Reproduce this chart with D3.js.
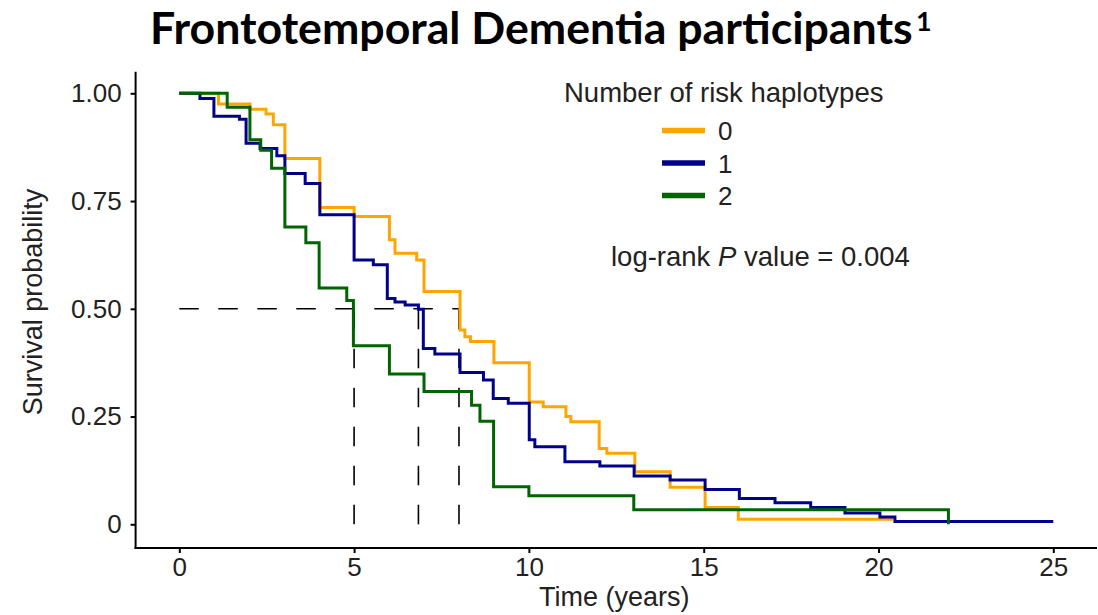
<!DOCTYPE html>
<html>
<head>
<meta charset="utf-8">
<script src="https://cdn.jsdelivr.net/npm/d3@7"></script>
<style>
  body { margin: 0; background: #fff; }
  text { font-family: "Liberation Sans", Arial, sans-serif; }
</style>
</head>
<body>
<div id="chart"></div>
<script>
// groups: number of risk haplotypes
const groups = ["0", "1", "2"];
const colors = ["#FFA500", "#00008B", "#006400"];

// Kaplan-Meier step points (time in years, survival)
const time0 = [0, 1.12, 2.02, 2.48, 2.69, 3.02, 4.02, 5.0, 6.01, 6.17, 6.79, 7.0, 8.03, 8.17, 8.33, 9.0, 10.01, 10.41, 11.06, 11.2, 12.01, 12.23, 13.03, 14.04, 15.04, 15.99, 20.42];
const surv0 = [1, 0.975, 0.963, 0.952, 0.927, 0.849, 0.735, 0.714, 0.66, 0.629, 0.613, 0.54, 0.451, 0.435, 0.424, 0.375, 0.284, 0.273, 0.25, 0.238, 0.176, 0.165, 0.122, 0.086, 0.039, 0.012, 0.012];

const time1 = [0, 0.59, 0.99, 1.72, 1.91, 2.31, 2.79, 3.02, 3.6, 4.02, 5.0, 5.55, 5.95, 6.17, 6.46, 6.84, 6.98, 7.31, 8.03, 8.7, 8.98, 9.41, 10.01, 10.17, 11.03, 12.03, 13.01, 14.04, 15.04, 16.02, 17.04, 18.06, 19.04, 20.04, 20.47, 25];
const surv1 = [1, 0.988, 0.947, 0.94, 0.884, 0.872, 0.855, 0.814, 0.791, 0.718, 0.613, 0.602, 0.524, 0.516, 0.509, 0.499, 0.408, 0.395, 0.352, 0.335, 0.292, 0.281, 0.196, 0.18, 0.145, 0.135, 0.112, 0.103, 0.081, 0.06, 0.05, 0.039, 0.026, 0.017, 0.0065, 0.0065];

const time2 = [0, 1.37, 2.02, 2.33, 2.64, 3.02, 3.62, 4.0, 4.79, 4.98, 6.01, 7.0, 8.36, 8.6, 8.99, 10.0, 13.0, 22.0];
const surv2 = [1, 0.9675, 0.892, 0.868, 0.826, 0.69, 0.653, 0.548, 0.519, 0.414, 0.349, 0.308, 0.276, 0.239, 0.087, 0.066, 0.034, 0];

// median survival per group
const medians = [8.0, 6.84, 5.0];

const xTicks = [0, 5, 10, 15, 20, 25];
const yTicks = [0, 0.25, 0.5, 0.75, 1];
const yTickLabels = ["0", "0.25", "0.50", "0.75", "1.00"];

const width = 1098, height = 615;

const svg = d3.select("#chart")
  .append("svg")
  .attr("width", width)
  .attr("height", height);

const x = d3.scaleLinear().domain([0, 25]).range([179.3, 1053.3]);
const y = d3.scaleLinear().domain([0, 1]).range([524.3, 93.3]);
// ggplot style expanded panel edges
const xLeft = x(-1.25), xRight = x(26.25);
const yBottom = y(-0.055), yTop = y(1.05);

// title
const title = svg.append("text")
  .attr("x", 150)
  .attr("y", 44)
  .style("font-family", "Lato, 'Open Sans', sans-serif")
  .style("font-weight", "bold")
  .style("font-size", "36px")
  .attr("fill", "#000")
  .text("Frontotemporal Dementia participants");
// fit title width to the reference
const tw = title.node().getComputedTextLength();
const titleSize = 36 * 763 / tw;
title.style("font-size", titleSize + "px");
svg.append("text")
  .attr("x", 150 + 763 + 3)
  .attr("y", 31)
  .style("font-family", "Lato, 'Open Sans', sans-serif")
  .style("font-weight", "bold")
  .style("font-size", (titleSize * 0.6) + "px")
  .text("1");

// dashed median lines
const dash = svg.append("g")
  .attr("stroke", "#000")
  .attr("stroke-width", 1.6)
  .attr("stroke-dasharray", "19.5,19.5")
  .attr("fill", "none");

dash.append("line")
  .attr("x1", x(0)).attr("x2", x(d3.max(medians)))
  .attr("y1", y(0.5)).attr("y2", y(0.5));

dash.selectAll(".vline")
  .data(medians)
  .enter()
  .append("line")
  .attr("class", "vline")
  .attr("x1", d => x(d)).attr("x2", d => x(d))
  .attr("y1", y(0)).attr("y2", y(0.5));

// survival curves
const line = d3.line()
  .x(d => x(d[0]))
  .y(d => y(d[1]))
  .curve(d3.curveStepAfter);

const curves = [d3.zip(time0, surv0), d3.zip(time1, surv1), d3.zip(time2, surv2)];

svg.append("g")
  .selectAll("path")
  .data(curves)
  .enter()
  .append("path")
  .attr("d", d => line(d))
  .attr("fill", "none")
  .attr("stroke", (d, i) => colors[i])
  .attr("stroke-width", 3);

// axes
const xAxis = svg.append("g")
  .attr("transform", `translate(0,${yBottom})`)
  .call(d3.axisBottom(x).tickValues(xTicks).tickSize(5).tickPadding(5).tickSizeOuter(0));

const yAxis = svg.append("g")
  .attr("transform", `translate(${xLeft},0)`)
  .call(d3.axisLeft(y).tickValues(yTicks)
    .tickFormat((d, i) => yTickLabels[i])
    .tickSize(5).tickPadding(9).tickSizeOuter(0));

[xAxis, yAxis].forEach(a => {
  a.select(".domain").remove();
  a.selectAll(".tick line").attr("stroke", "#000").attr("stroke-width", 2);
  a.selectAll(".tick text")
    .attr("fill", "#222")
    .style("font-family", "'Liberation Sans', Arial, sans-serif")
    .style("font-size", "26px");
});

svg.append("line")
  .attr("x1", xLeft).attr("x2", xLeft)
  .attr("y1", yTop).attr("y2", yBottom + 1)
  .attr("stroke", "#000").attr("stroke-width", 2);
svg.append("line")
  .attr("x1", xLeft - 1).attr("x2", xRight)
  .attr("y1", yBottom).attr("y2", yBottom)
  .attr("stroke", "#000").attr("stroke-width", 2);

// axis titles
svg.append("text")
  .attr("transform", `translate(41.5,302) rotate(-90)`)
  .attr("text-anchor", "middle")
  .attr("fill", "#222")
  .style("font-size", "27px")
  .text("Survival probability");

svg.append("text")
  .attr("x", (xLeft + xRight) / 2 - 2)
  .attr("y", 606)
  .attr("text-anchor", "middle")
  .attr("fill", "#222")
  .style("font-size", "27px")
  .text("Time (years)");

// legend
const legend = svg.append("g");
legend.append("text")
  .attr("x", 564)
  .attr("y", 102)
  .attr("fill", "#222")
  .style("font-size", "27.5px")
  .text("Number of risk haplotypes");

const keys = legend.selectAll(".key")
  .data(groups)
  .enter()
  .append("g")
  .attr("class", "key")
  .attr("transform", (d, i) => `translate(662,${130.5 + i * 32.5})`);

keys.append("line")
  .attr("x1", 0).attr("x2", 43)
  .attr("stroke", (d, i) => colors[i])
  .attr("stroke-width", 5.5);

keys.append("text")
  .attr("x", 56)
  .attr("y", 9.5)
  .attr("fill", "#222")
  .style("font-size", "26px")
  .text(d => d);

const pv = svg.append("text")
  .attr("x", 611)
  .attr("y", 266)
  .attr("fill", "#222")
  .style("font-size", "27.5px");
pv.append("tspan").text("log-rank ");
pv.append("tspan").style("font-style", "italic").text("P");
pv.append("tspan").text(" value = 0.004");
</script>
</body>
</html>
